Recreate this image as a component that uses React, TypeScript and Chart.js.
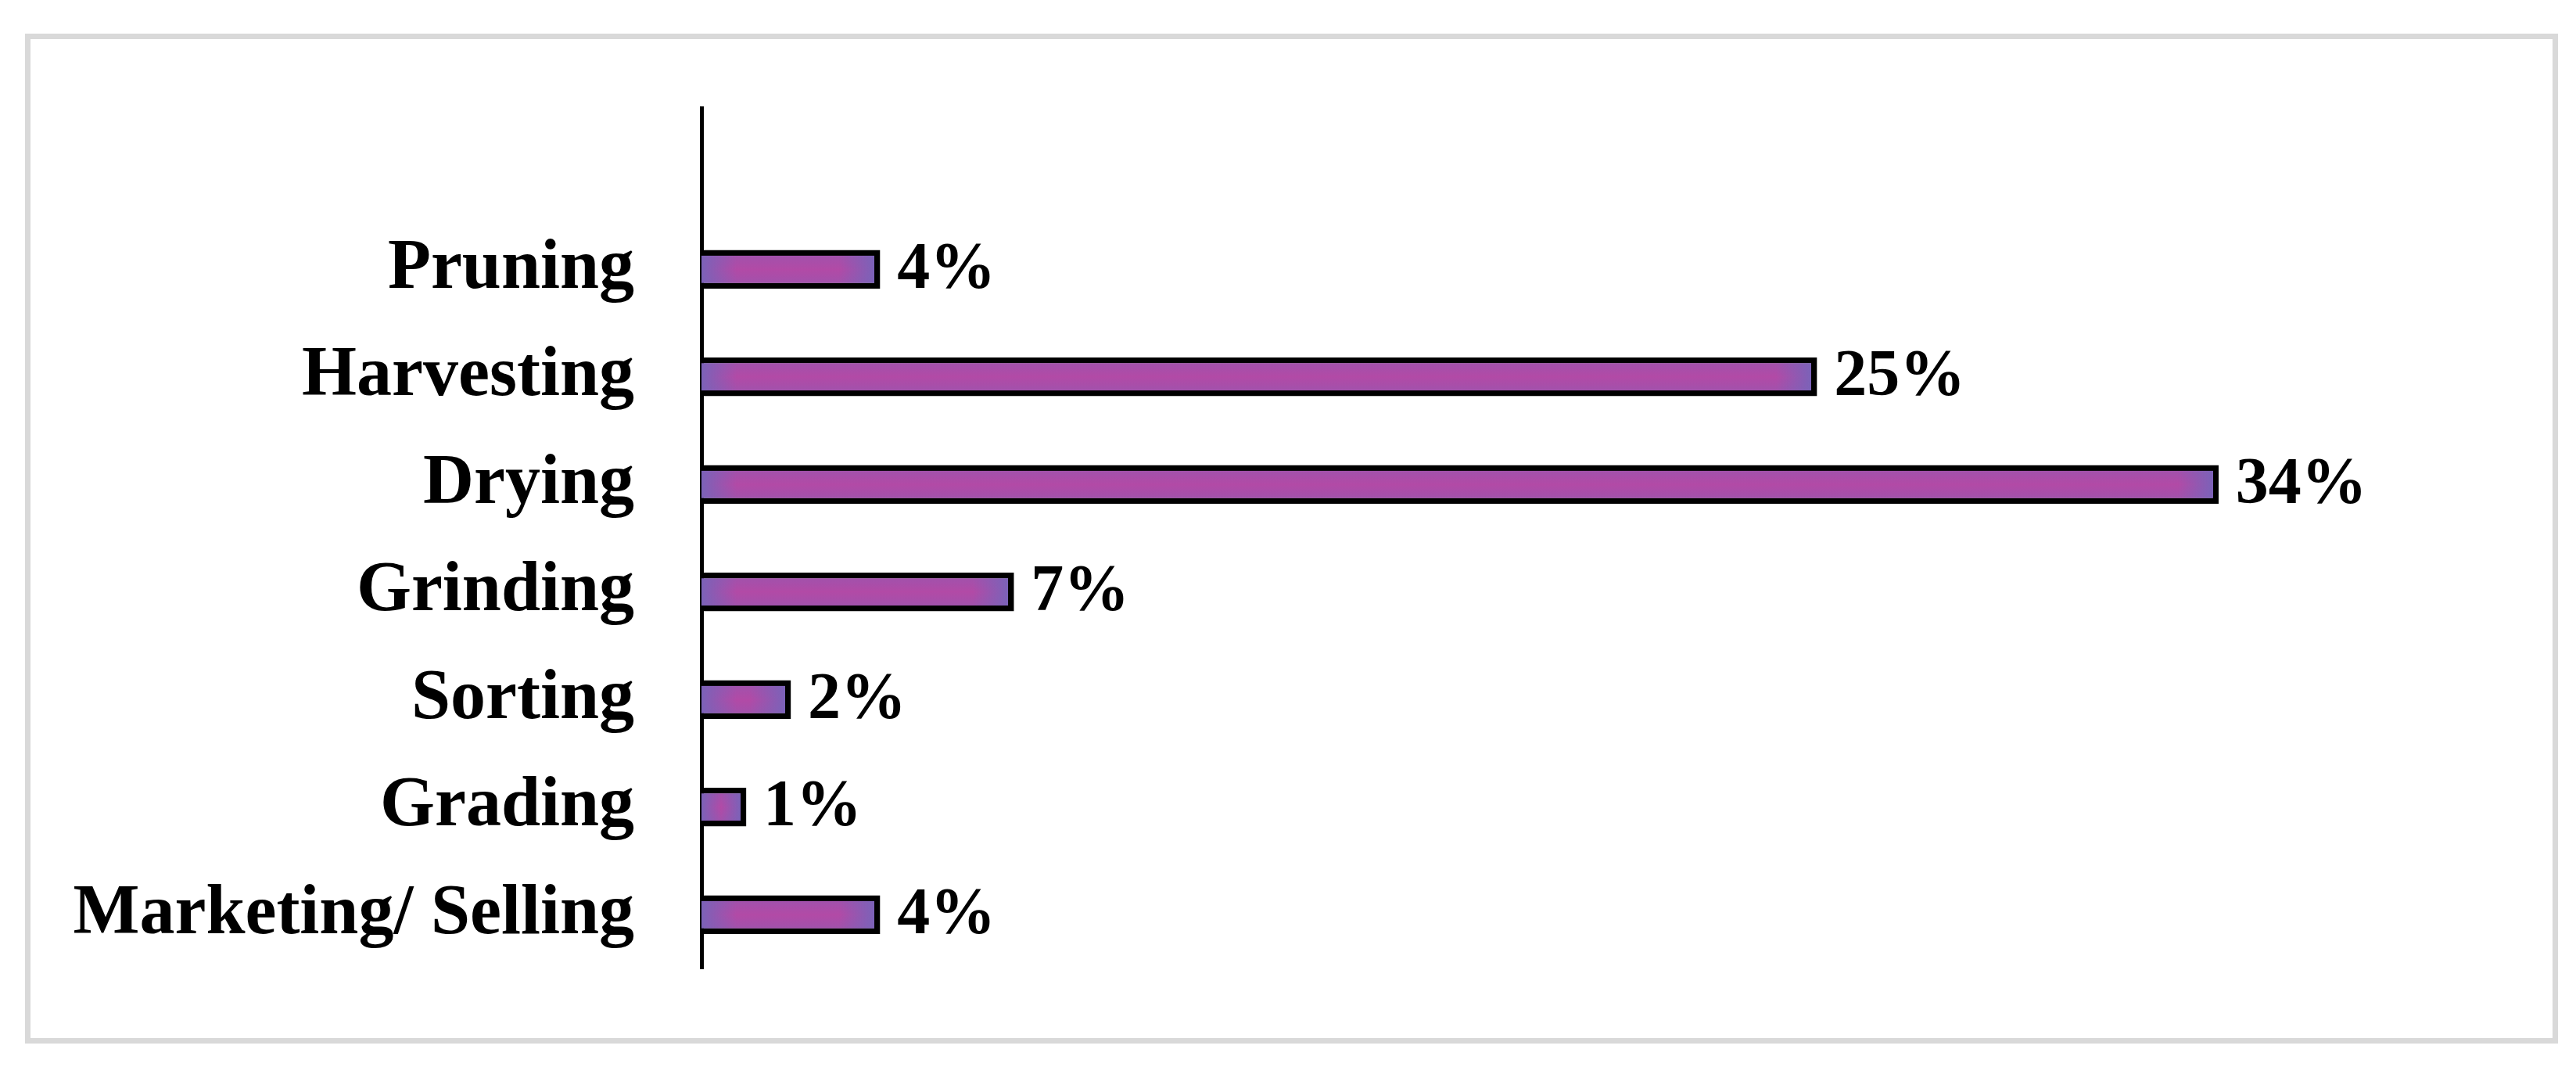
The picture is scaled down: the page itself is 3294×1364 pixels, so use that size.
import React, { useEffect, useRef } from "react";
import { Chart, registerables } from "chart.js";

Chart.register(...registerables);

// ---- data ----
const categories = [
  "Pruning",
  "Harvesting",
  "Drying",
  "Grinding",
  "Sorting",
  "Grading",
  "Marketing/ Selling",
];
const shares = [4, 25, 34, 7, 2, 1, 4];
const xAxisMax = 40;

// ---- style ----
const PAGE_W = 3294;
const PAGE_H = 1364;
const FONT = '"Liberation Serif", "Times New Roman", serif';
const EDGE = [123, 98, 184];
const CENTER = "#b24aa6";
const BAR_T = 49;
const BAR_BW = 7;

function makeFill(chart: any, index: number, value: number | null) {
  if (value == null || !chart.scales || !chart.scales.x || !chart.scales.y) return CENTER;
  const xs = chart.scales.x;
  const ys = chart.scales.y;
  const base = xs.getPixelForValue(0);
  const end = xs.getPixelForValue(value);
  const yc = ys.getPixelForValue(index);
  if (!isFinite(base) || !isFinite(end) || !isFinite(yc)) return CENTER;
  const left = base;
  const right = end - BAR_BW;
  const top = yc - BAR_T / 2 + BAR_BW;
  const bottom = yc + BAR_T / 2 - BAR_BW;
  const w = Math.max(2, Math.round(right - left));
  const h = Math.max(2, Math.round(bottom - top));
  const off = document.createElement("canvas");
  off.width = w;
  off.height = h;
  const c = off.getContext("2d")!;
  const edge = `rgb(${EDGE.join(",")})`;
  const L = Math.min(45, w / 2);
  const gx = c.createLinearGradient(0, 0, w, 0);
  gx.addColorStop(0, edge);
  gx.addColorStop(L / w, CENTER);
  gx.addColorStop(1 - L / w, CENTER);
  gx.addColorStop(1, edge);
  c.fillStyle = gx;
  c.fillRect(0, 0, w, h);
  const gy = c.createLinearGradient(0, 0, 0, h);
  gy.addColorStop(0, `rgba(${EDGE.join(",")},0.3)`);
  gy.addColorStop(0.5, `rgba(${EDGE.join(",")},0)`);
  gy.addColorStop(1, `rgba(${EDGE.join(",")},0.3)`);
  c.fillStyle = gy;
  c.fillRect(0, 0, w, h);
  const pattern = chart.ctx.createPattern(off, "no-repeat");
  if (!pattern) return CENTER;
  pattern.setTransform(new DOMMatrix().translate(left, top));
  return pattern;
}

const valueLabelPlugin = {
  id: "valueLabels",
  afterDatasetsDraw(chart: any) {
    const ctx = chart.ctx;
    const meta = chart.getDatasetMeta(0);
    ctx.save();
    ctx.font = `bold 84px ${FONT}`;
    ctx.fillStyle = "#000";
    ctx.textAlign = "left";
    ctx.textBaseline = "middle";
    meta.data.forEach((el: any, i: number) => {
      const v = chart.data.datasets[0].data[i];
      if (v == null) return;
      ctx.fillText(`${v}%`, el.x + 22, el.y + 2);
    });
    ctx.restore();
  },
};

export default function App() {
  const ref = useRef<HTMLCanvasElement>(null);

  useEffect(() => {
    if (!ref.current) return;
    const labels = ["", ...categories];
    const data = [null, ...shares];
    const chart = new Chart(ref.current, {
      type: "bar",
      data: {
        labels,
        datasets: [
          {
            data: data as any,
            backgroundColor: (ctx: any) =>
              ctx.type === "data" ? makeFill(ctx.chart, ctx.dataIndex, ctx.raw) : CENTER,
            borderColor: "#000",
            borderWidth: BAR_BW,
            borderSkipped: "start",
            barThickness: BAR_T,
          },
        ],
      },
      options: {
        indexAxis: "y",
        responsive: false,
        animation: false,
        events: [],
        layout: { padding: { left: 0, top: 138, bottom: 126, right: 115 } },
        plugins: {
          legend: { display: false },
          tooltip: { enabled: false },
          title: { display: false },
        },
        scales: {
          x: {
            type: "linear",
            min: 0,
            max: xAxisMax,
            display: false,
          },
          y: {
            type: "category",
            z: 1,
            grid: { display: false, drawTicks: false },
            border: { display: true, color: "#000", width: 5 },
            ticks: {
              autoSkip: false,
              padding: 86,
              color: "#000",
              font: { family: FONT, size: 90, weight: "bold" },
            },
            afterFit: (scale: any) => {
              scale.width = 897;
              scale.paddingTop = 0;
              scale.paddingBottom = 0;
            },
          },
        },
      },
      plugins: [valueLabelPlugin],
    });
    return () => chart.destroy();
  }, []);

  return (
    <div
      style={{
        position: "fixed",
        left: 0,
        top: 0,
        width: PAGE_W,
        height: PAGE_H,
        background: "#fff",
      }}
    >
      <div
        style={{
          position: "absolute",
          left: 32,
          top: 43,
          width: 3239,
          height: 1291,
          border: "7px solid #d9d9d9",
          boxSizing: "border-box",
          background: "#fff",
        }}
      />
      <canvas
        ref={ref}
        width={PAGE_W}
        height={PAGE_H}
        style={{ position: "absolute", left: 0, top: 0, width: PAGE_W, height: PAGE_H }}
      />
    </div>
  );
}
